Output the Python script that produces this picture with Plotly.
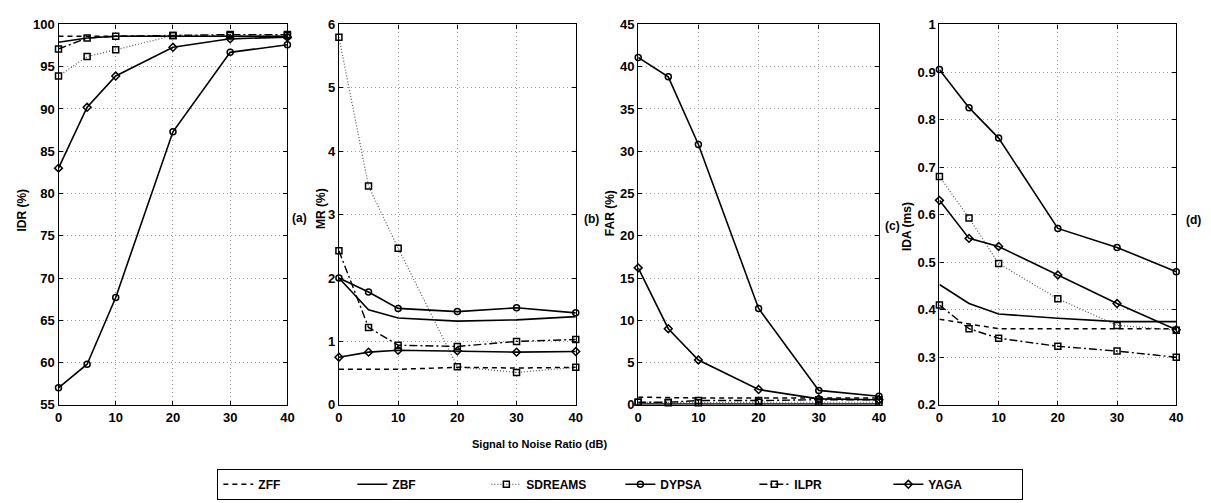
import plotly.graph_objects as go

snr = [0, 5, 10, 20, 30, 40]
methods = ["ZFF", "ZBF", "SDREAMS", "DYPSA", "ILPR", "YAGA"]

idr = {
    "ZFF":     [98.6, 98.6, 98.6, 98.6, 98.6, 98.6],
    "ZBF":     [97.9, 98.4, 98.6, 98.6, 98.6, 98.6],
    "SDREAMS": [93.9, 96.2, 97.0, 98.7, 98.7, 98.7],
    "DYPSA":   [57.0, 59.8, 67.7, 87.3, 96.7, 97.6],
    "ILPR":    [97.1, 98.4, 98.6, 98.7, 98.8, 98.8],
    "YAGA":    [83.0, 90.2, 93.9, 97.3, 98.3, 98.5],
}
mr = {
    "ZFF":     [0.56, 0.56, 0.56, 0.59, 0.58, 0.59],
    "ZBF":     [2.0, 1.50, 1.37, 1.32, 1.34, 1.39],
    "SDREAMS": [5.80, 3.45, 2.47, 0.60, 0.51, 0.59],
    "DYPSA":   [2.0, 1.78, 1.52, 1.47, 1.53, 1.45],
    "ILPR":    [2.43, 1.22, 0.94, 0.92, 1.0, 1.03],
    "YAGA":    [0.75, 0.83, 0.86, 0.85, 0.83, 0.84],
}
far = {
    "ZFF":     [0.9, 0.85, 0.8, 0.8, 0.8, 0.8],
    "ZBF":     [0.1, 0.1, 0.1, 0.1, 0.1, 0.1],
    "SDREAMS": [0.3, 0.25, 0.25, 0.3, 0.3, 0.3],
    "DYPSA":   [41.1, 38.8, 30.8, 11.4, 1.7, 1.0],
    "ILPR":    [0.3, 0.3, 0.5, 0.5, 0.6, 0.6],
    "YAGA":    [16.2, 9.0, 5.3, 1.8, 0.7, 0.6],
}
ida = {
    "ZFF":     [0.38, 0.37, 0.36, 0.36, 0.36, 0.36],
    "ZBF":     [0.453, 0.413, 0.391, 0.382, 0.375, 0.375],
    "SDREAMS": [0.68, 0.593, 0.497, 0.423, 0.367, 0.357],
    "DYPSA":   [0.905, 0.825, 0.761, 0.571, 0.531, 0.48],
    "ILPR":    [0.41, 0.36, 0.34, 0.323, 0.313, 0.30],
    "YAGA":    [0.63, 0.55, 0.533, 0.473, 0.413, 0.358],
}

panels = [idr, mr, far, ida]
y_titles = ["IDR (%)", "MR (%)", "FAR (%)", "IDA (ms)"]
panel_tags = ["(a)", "(b)", "(c)", "(d)"]
y_tickvals = [
    [55, 60, 65, 70, 75, 80, 85, 90, 95, 100],
    [0, 1, 2, 3, 4, 5, 6],
    [0, 5, 10, 15, 20, 25, 30, 35, 40, 45],
    [0.2, 0.3, 0.4, 0.5, 0.6, 0.7, 0.8, 0.9, 1.0],
]
y_ticklabels = [
    ["55", "60", "65", "70", "75", "80", "85", "90", "95", "100"],
    ["0", "1", "2", "3", "4", "5", "6"],
    ["0", "5", "10", "15", "20", "25", "30", "35", "40", "45"],
    ["0.2", "0.3", "0.4", "0.5", "0.6", "0.7", "0.8", "0.9", "1"],
]
x_ticks = [0, 10, 20, 30, 40]
x_ticklabels = ["0", "10", "20", "30", "40"]

styles = {
    "ZFF":     dict(dash="5px,4px", width=1.5, symbol=None, color="black"),
    "ZBF":     dict(dash="solid", width=1.6, symbol=None, color="black"),
    "SDREAMS": dict(dash="1px,2px", width=1.2, symbol="square-open", color="#555555"),
    "DYPSA":   dict(dash="solid", width=1.6, symbol="circle-open", color="black"),
    "ILPR":    dict(dash="8px,3px,2px,3px", width=1.4, symbol="square-open", color="black"),
    "YAGA":    dict(dash="solid", width=1.6, symbol="diamond-open", color="black"),
}

W, H = 1211, 503
x_px = [(55, 286), (338, 577), (640, 883), (944, 1183)]
y_top, y_bot = 18, 410

fig = go.Figure()
font_family = "Liberation Sans, Arial, sans-serif"

def b(t):
    return "<b>" + t + "</b>"

for i, data in enumerate(panels):
    suffix = "" if i == 0 else str(i + 1)
    for m in methods:
        st = styles[m]
        mode = "lines+markers" if st["symbol"] else "lines"
        fig.add_trace(go.Scatter(
            x=snr, y=data[m], name=b(m), mode=mode,
            xaxis="x" + suffix, yaxis="y" + suffix,
            line=dict(color=st["color"], dash=st["dash"], width=st["width"]),
            marker=dict(symbol=st["symbol"] or "circle", size=6, color="black",
                        line=dict(width=1.5, color="black")),
            showlegend=(i == 0), cliponaxis=False,
        ))
    x0, x1 = x_px[i]
    common = dict(showline=True, linecolor="black", linewidth=1.3, mirror="ticks",
                  ticks="inside", ticklen=4, tickcolor="black",
                  showgrid=True, gridcolor="#a0a0a0", griddash="1px,3px", gridwidth=1,
                  zeroline=False,
                  tickfont=dict(family=font_family, size=13, color="black"))
    fig.update_layout(**{
        "xaxis" + suffix: dict(domain=[x0 / W, x1 / W], range=[0, 40], tickvals=x_ticks,
                               ticktext=[b(t) for t in x_ticklabels],
                               anchor="y" + suffix, **common),
        "yaxis" + suffix: dict(domain=[1 - y_bot / H, 1 - y_top / H],
                               range=[y_tickvals[i][0], y_tickvals[i][-1]],
                               tickvals=y_tickvals[i],
                               ticktext=[b(t) for t in y_ticklabels[i]],
                               anchor="x" + suffix, **common),
    })

annots = []
ytitle_x = [18, 320, 611, 912]
ytitle_y = [209, 208, 212, 226]
tag_pos = [(298, 217), (593, 219), (897, 226), (1200, 220)]
for i in range(4):
    annots.append(dict(x=ytitle_x[i] / W, y=1 - ytitle_y[i] / H, xref="paper", yref="paper",
                       xanchor="center", yanchor="middle",
                       text=b(y_titles[i]), textangle=-90, showarrow=False,
                       font=dict(family=font_family, size=12, color="black")))
    annots.append(dict(x=tag_pos[i][0] / W, y=1 - tag_pos[i][1] / H, xref="paper", yref="paper",
                       xanchor="center", yanchor="middle",
                       text=b(panel_tags[i]), showarrow=False,
                       font=dict(family=font_family, size=12, color="black")))
annots.append(dict(x=540 / W, y=1 - 450 / H, xref="paper", yref="paper",
                   xanchor="center", yanchor="middle",
                   text=b("Signal to Noise Ratio (dB)"), showarrow=False,
                   font=dict(family=font_family, size=11, color="black")))

fig.update_layout(
    width=W, height=H,
    margin=dict(l=0, r=0, t=0, b=0),
    paper_bgcolor="white", plot_bgcolor="white",
    annotations=annots,
    legend=dict(orientation="h", x=622 / W, xanchor="center", y=1 - 476 / H, yanchor="top",
                bordercolor="black", borderwidth=1, bgcolor="white",
                entrywidth=89, entrywidthmode="pixels",
                font=dict(family=font_family, size=12, color="black")),
)

fig.write_html("out.html")
